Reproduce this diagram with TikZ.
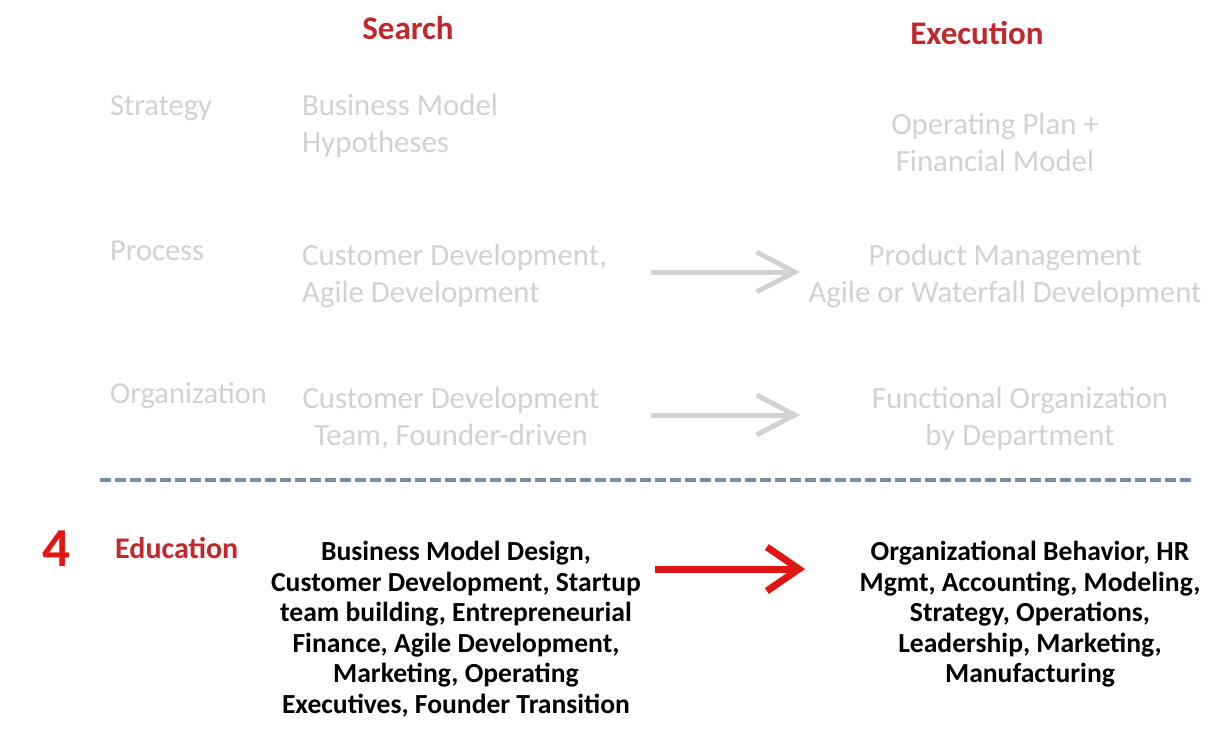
\documentclass[tikz,border=0pt]{standalone}
\usepackage{fontspec}
\setmainfont{Carlito}
\usetikzlibrary{arrows.meta}
\definecolor{headred}{RGB}{192,40,45}
\definecolor{arrowred}{RGB}{226,20,20}
\definecolor{faded}{RGB}{210,210,210}
\definecolor{rulegray}{RGB}{125,140,165}

\begin{document}
\begin{tikzpicture}[x=1pt,y=-1pt,
    title/.style={inner sep=0pt,anchor=base,text=headred,font=\fontsize{33}{40}\selectfont\bfseries},
    rowlabel/.style={inner sep=0pt,anchor=base west,text=faded,font=\fontsize{30.5}{37}\selectfont},
    fadedtext/.style={inner sep=0pt,text=faded,font=\fontsize{30.8}{37}\selectfont},
    boldtext/.style={inner sep=0pt,anchor=north,align=center,font=\fontsize{27.6}{30.5}\selectfont\bfseries},
    fadedarrow/.style={draw=faded,line width=5pt,-{Straight Barb[length=38pt,width=40pt]}},
    redarrow/.style={draw=arrowred,line width=7pt,-{Straight Barb[length=32pt,width=44pt]}}]
                \useasboundingbox (0,0) rectangle (1214,729);
                \node[title] (search) at (408,39) {Search};
                \node[title] (execution) at (977,44) {Execution};

                \node[rowlabel] (strategy) at (110,115) {Strategy};
                \node[fadedtext,anchor=north west,align=left] (hypo) at (302,94) {Business Model\\Hypotheses};
                \node[fadedtext,anchor=north,align=center] (plan) at (995,113) {Operating Plan +\\Financial Model};

                \node[rowlabel] (process) at (110,260) {Process};
                \node[fadedtext,anchor=north west,align=left] (custdev) at (302,244) {Customer Development,\\Agile Development};
                \node[fadedtext,anchor=north,align=center] (prodmgmt) at (1005,244) {Product Management\\Agile or Waterfall Development};

                \node[rowlabel] (organization) at (110,403) {Organization};
                \node[fadedtext,anchor=north,align=center] (custteam) at (451,387) {Customer Development\\Team, Founder-driven};
                \node[fadedtext,anchor=north,align=center] (functional) at (1020,387) {Functional Organization\\by Department};

                \coordinate (pa) at (651,272);
                \coordinate (pb) at (800,272);
                \coordinate (oa) at (651,415);
                \coordinate (ob) at (800,415);
                \draw[fadedarrow] (pa) -- (pb);
                \draw[fadedarrow] (oa) -- (ob);

                \coordinate (ruleL) at (100,480);
                \coordinate (ruleR) at (1192,480);
                \draw[rulegray,line width=3.5pt,dash pattern=on 11pt off 4pt] (ruleL) -- (ruleR);

                \node[inner sep=0pt,anchor=base,text=arrowred,font=\fontsize{55}{60}\selectfont\bfseries] (four) at (56,566) {4};
                \node[rowlabel,text=headred,font=\fontsize{30}{37}\selectfont\bfseries] (education) at (115,558) {Education};
                \node[boldtext] (searchedu) at (456,541) {Business Model Design,\\Customer Development, Startup\\team building, Entrepreneurial\\Finance, Agile Development,\\Marketing, Operating\\Executives, Founder Transition};
                \node[boldtext] (execedu) at (1030,541) {Organizational Behavior, HR\\Mgmt, Accounting, Modeling,\\Strategy, Operations,\\Leadership, Marketing,\\Manufacturing};

                \coordinate (ea) at (655,569);
                \coordinate (eb) at (805,569);
                \draw[redarrow] (ea) -- (eb);
\end{tikzpicture}
\end{document}
